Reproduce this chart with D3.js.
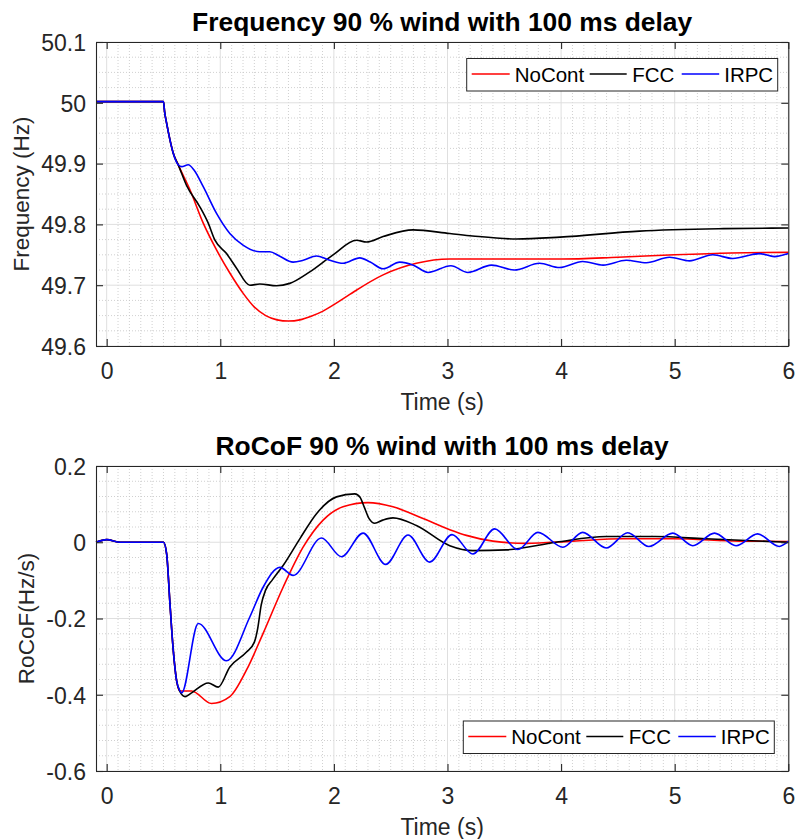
<!DOCTYPE html>
<html><head><meta charset="utf-8">
<script src="https://cdn.jsdelivr.net/npm/d3@7/dist/d3.min.js"></script>
<style>body{margin:0;background:#fff;} svg{display:block;font-family:Arial,"Liberation Sans",Helvetica,sans-serif;}</style>
</head><body><svg id="c" width="795" height="839"></svg>
<script>
// ---------- data ----------
const timeTicks = [0, 1, 2, 3, 4, 5, 6];
const freqTicks = [49.6, 49.7, 49.8, 49.9, 50, 50.1];
const rocofTicks = [-0.6, -0.4, -0.2, 0, 0.2];
const seriesNames = ["NoCont", "FCC", "IRPC"];
const seriesColors = ["#ff0000", "#000000", "#0000ff"];

const freqNoCont = [[-0.094,50.002],[0.5,50.002],[0.51,49.985],[0.528,49.966],[0.557,49.939],[0.586,49.917],[0.63,49.898],
 [0.733,49.857],[0.85,49.802],[0.967,49.758],[1.084,49.72],[1.2,49.687],[1.3,49.664],[1.4,49.65],[1.5,49.643],[1.6,49.641],
 [1.7,49.643],[1.8,49.649],[1.9,49.657],[2.0,49.668],[2.14,49.685],[2.433,49.717],[2.726,49.736],[3.02,49.743],[3.5,49.743],[4.0,49.743],
 [4.5,49.746],[5.0,49.75],[5.5,49.753],[6.0,49.754]];
const freqFCC = [[-0.094,50.002],[0.5,50.002],[0.51,49.985],[0.528,49.966],[0.557,49.939],[0.586,49.917],[0.63,49.898],
 [0.703,49.864],[0.82,49.829],[0.894,49.802],[0.953,49.774],[1.055,49.752],[1.143,49.728],[1.26,49.7],[1.348,49.702],
 [1.495,49.699],[1.612,49.703],[1.788,49.722],[1.993,49.75],[2.199,49.774],[2.287,49.771],[2.433,49.78],[2.697,49.791],
 [3.02,49.785],[3.22,49.781],[3.606,49.776],[3.99,49.779],[4.69,49.789],[5.43,49.793],[6.0,49.794]];
const freqIRPC = [[-0.094,50.002],[0.5,50.002],[0.51,49.985],[0.528,49.966],[0.557,49.939],[0.586,49.917],[0.63,49.898],
 [0.66,49.895],[0.718,49.898],[0.77,49.889],[0.85,49.862],[0.967,49.818],[1.084,49.785],[1.2,49.766],[1.348,49.755],
 [1.436,49.755],[1.52,49.748],[1.641,49.738],[1.73,49.741],[1.847,49.748],[1.95,49.742],[2.081,49.736],[2.228,49.745],
 [2.32,49.738],[2.433,49.727],[2.58,49.738],[2.7,49.733],[2.829,49.721],[3.03,49.732],[3.18,49.721],[3.386,49.733],
 [3.59,49.725],[3.81,49.736],[3.987,49.729],[4.19,49.739],[4.37,49.733],[4.573,49.741],[4.75,49.737],[4.954,49.746],
 [5.13,49.74],[5.335,49.75],[5.511,49.744],[5.746,49.752],[5.878,49.747],[6.0,49.752]];

const rocofNoCont = [[-0.094,0],[0.0,0.007],[0.12,0],[0.5,0],[0.528,-0.031],[0.557,-0.161],[0.586,-0.283],[0.615,-0.362],
 [0.645,-0.39],[0.748,-0.39],[0.923,-0.423],[1.084,-0.405],[1.231,-0.335],[1.377,-0.239],[1.553,-0.118],[1.729,-0.013],
 [1.905,0.058],[2.08,0.093],[2.3,0.104],[2.52,0.093],[2.785,0.062],[3.02,0.033],[3.166,0.018],[3.4,0.003],[3.694,-0.003],
 [4.104,0.003],[4.544,0.009],[4.98,0.009],[5.57,0.003],[6.0,0.002]];
const rocofFCC = [[-0.094,0],[0.0,0.007],[0.12,0],[0.5,0],[0.528,-0.031],[0.557,-0.161],[0.586,-0.283],[0.615,-0.362],
 [0.645,-0.392],[0.69,-0.405],[0.748,-0.395],[0.894,-0.369],[0.982,-0.38],[1.084,-0.327],[1.231,-0.288],[1.3,-0.262],
 [1.33,-0.225],[1.36,-0.165],[1.4,-0.125],[1.46,-0.098],[1.553,-0.061],[1.7,0.009],[1.847,0.075],[2.023,0.119],
 [2.184,0.127],[2.23,0.118],[2.27,0.09],[2.31,0.062],[2.36,0.05],[2.43,0.058],[2.52,0.064],[2.726,0.044],[3.02,-0.009],
 [3.224,-0.022],[3.517,-0.02],[3.957,0],[4.397,0.015],[4.83,0.015],[5.27,0.009],[6.0,0]];
const rocofIRPC = [[-0.094,0],[0.0,0.007],[0.12,0],[0.5,0],[0.528,-0.031],[0.557,-0.161],[0.586,-0.283],[0.615,-0.362],
 [0.645,-0.39],[0.66,-0.395],[0.806,-0.213],[1.055,-0.311],[1.26,-0.196],[1.377,-0.118],[1.525,-0.066],[1.641,-0.087],
 [1.891,0.011],[2.067,-0.038],[2.257,0.024],[2.456,-0.058],[2.653,0.019],[2.843,-0.052],[3.04,0.02],[3.224,-0.031],
 [3.415,0.035],[3.62,-0.019],[3.796,0.026],[4.016,-0.013],[4.19,0.026],[4.397,-0.015],[4.587,0.025],[4.772,-0.011],
 [4.984,0.024],[5.16,-0.009],[5.35,0.024],[5.54,-0.009],[5.73,0.022],[5.92,-0.011],[6.0,0.002]];

// ---------- drawing ----------
const svg = d3.select("#c");
const AX = "#262626";
const left = 96, right = 788.3;

function panel(cfg) {
  const g = svg.append("g");
  const x = d3.scaleLinear().domain([-0.094, 6]).range([left, right]);
  const y = d3.scaleLinear().domain(cfg.yDomain).range([cfg.bottom, cfg.top]);
  const [y0, y1] = cfg.yDomain;
  // minor grid
  const xMinor = d3.range(0, 61).map(i => i / 10).filter(v => Math.abs(v - Math.round(v)) > 1e-6);
  const yN = Math.round((y1 - y0) / cfg.yMinor);
  const yMinor = d3.range(0, yN + 1).map(i => y0 + i * cfg.yMinor)
    .filter(v => !cfg.yTicks.some(t => Math.abs(t - v) < 1e-6));
  g.selectAll(".xm").data(xMinor).join("line")
    .attr("x1", d => x(d)).attr("x2", d => x(d)).attr("y1", cfg.top).attr("y2", cfg.bottom)
    .attr("stroke", "#c4c4c4").attr("stroke-width", 0.8).attr("stroke-dasharray", "1,2");
  g.selectAll(".ym").data(yMinor).join("line")
    .attr("y1", d => y(d)).attr("y2", d => y(d)).attr("x1", left).attr("x2", right)
    .attr("stroke", "#c4c4c4").attr("stroke-width", 0.8).attr("stroke-dasharray", "1,2");
  // major grid
  g.selectAll(".xg").data(timeTicks).join("line")
    .attr("x1", d => x(d)).attr("x2", d => x(d)).attr("y1", cfg.top).attr("y2", cfg.bottom)
    .attr("stroke", "#dfdfdf").attr("stroke-width", 1);
  g.selectAll(".yg").data(cfg.yTicks).join("line")
    .attr("y1", d => y(d)).attr("y2", d => y(d)).attr("x1", left).attr("x2", right)
    .attr("stroke", "#dfdfdf").attr("stroke-width", 1);
  // lines
  const line = d3.line().x(d => x(d[0])).y(d => y(d[1])).curve(d3.curveMonotoneX);
  cfg.series.forEach((s, i) => {
    g.append("path").datum(s).attr("d", line).attr("fill", "none")
      .attr("stroke", seriesColors[i]).attr("stroke-width", 1.6).attr("stroke-linejoin", "round");
  });
  // axes (box with inward ticks)
  const axB = d3.axisBottom(x).tickValues(timeTicks).tickSizeInner(-7).tickSizeOuter(0).tickPadding(17).tickFormat(d3.format("d"));
  const axT = d3.axisTop(x).tickValues(timeTicks).tickSizeInner(-7).tickSizeOuter(0).tickFormat("");
  const axL = d3.axisLeft(y).tickValues(cfg.yTicks).tickSizeInner(-7).tickSizeOuter(0).tickPadding(17).tickFormat(cfg.fmt);
  const axR = d3.axisRight(y).tickValues(cfg.yTicks).tickSizeInner(-7).tickSizeOuter(0).tickFormat("");
  const style = sel => {
    sel.selectAll("path").attr("stroke", AX).attr("stroke-width", 1.1);
    sel.selectAll("line").attr("stroke", AX).attr("stroke-width", 1.1);
    sel.selectAll("text").attr("fill", AX).attr("font-size", 23).attr("font-family", 'Arial,"Liberation Sans",sans-serif');
  };
  g.append("g").attr("transform", `translate(0,${cfg.bottom})`).call(axB).call(style);
  g.append("g").attr("transform", `translate(0,${cfg.top})`).call(axT).call(style);
  g.append("g").attr("transform", `translate(${left},0)`).call(axL).call(style)
    .selectAll("text").attr("dy", "0.36em").attr("x", -10);
  g.append("g").attr("transform", `translate(${right},0)`).call(axR).call(style);
  // titles
  const cx = (left + right) / 2;
  g.append("text").attr("x", cx).attr("y", cfg.top - 11).attr("text-anchor", "middle")
    .attr("font-size", 26.4).attr("font-weight", "bold").attr("fill", "#000").text(cfg.title);
  g.append("text").attr("x", cx).attr("y", cfg.bottom + 64).attr("text-anchor", "middle")
    .attr("font-size", 23).attr("fill", AX).text("Time (s)");
  const cy = (cfg.top + cfg.bottom) / 2;
  g.append("text").attr("transform", `translate(${cfg.ylabelX},${cy}) rotate(-90)`).attr("text-anchor", "middle")
    .attr("font-size", 22.5).attr("fill", AX).text(cfg.ylabel);
  // legend
  const L = g.append("g").attr("transform", `translate(${cfg.legX},${cfg.legY})`);
  L.append("rect").attr("width", 311).attr("height", 32.5).attr("fill", "#fff").attr("stroke", AX).attr("stroke-width", 1);
  const items = [[5, 43, 48], [123, 160, 165.5], [215, 252.5, 257.5]];
  items.forEach((it, i) => {
    L.append("line").attr("x1", it[0]).attr("x2", it[1]).attr("y1", 15.5).attr("y2", 15.5)
      .attr("stroke", seriesColors[i]).attr("stroke-width", 1.6);
    L.append("text").attr("x", it[2]).attr("y", 23.3).attr("font-size", 20.5).attr("fill", "#000").text(seriesNames[i]);
  });
}

panel({
  top: 42, bottom: 346, yDomain: [49.6, 50.1], yTicks: freqTicks, yMinor: 0.025,
  fmt: d => (Math.abs(d - 50) < 1e-9 ? "50" : d3.format(".1f")(d)),
  title: "Frequency 90 % wind with 100 ms delay", ylabel: "Frequency (Hz)", ylabelX: 29,
  series: [freqNoCont, freqFCC, freqIRPC], legX: 466.7, legY: 58.5
});
panel({
  top: 466, bottom: 771, yDomain: [-0.6, 0.2], yTicks: rocofTicks, yMinor: 0.04,
  fmt: d => (d === 0 ? "0" : d3.format(".1f")(d).replace("−", "-")),
  title: "RoCoF 90 % wind with 100 ms delay", ylabel: "RoCoF(Hz/s)", ylabelX: 34,
  series: [rocofNoCont, rocofFCC, rocofIRPC], legX: 463.3, legY: 721
});
</script></body></html>
